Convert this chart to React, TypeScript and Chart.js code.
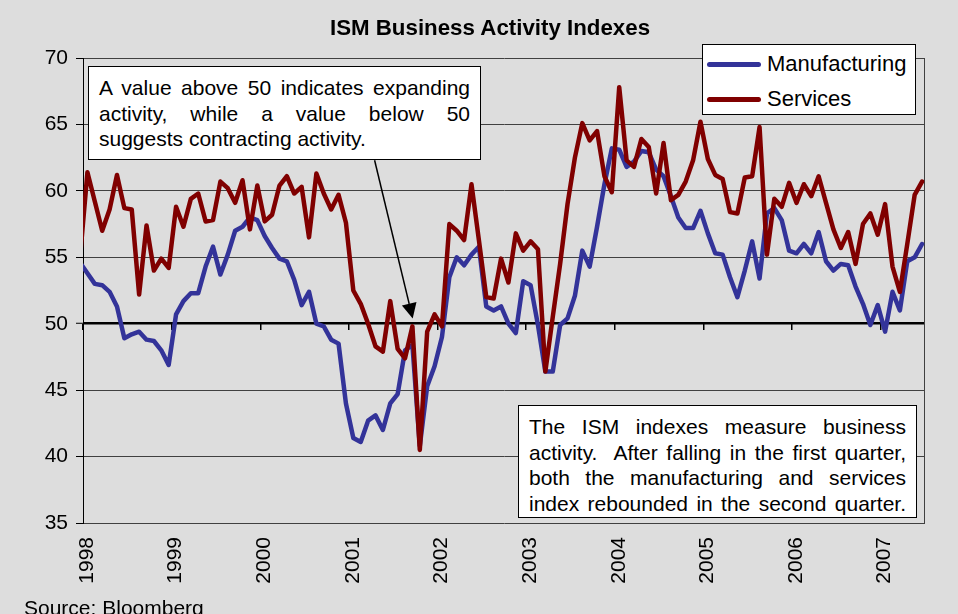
import React, { useEffect, useRef } from "react";
import { Chart, registerables } from "chart.js";

Chart.register(...registerables);

const FONT = '"Liberation Sans", Arial, Helvetica, sans-serif';
const BG = "#dddddd";

const TITLE = "ISM Business Activity Indexes";
const SERIES_NAMES = ["Manufacturing", "Services"];
const SERIES_COLORS = ["#333399", "#800000"];
const SOURCE = "Source: Bloomberg";

// monthly observations, first one = Dec 1997, last one = Jun 2007
const START_YEAR = 1997;
const START_MONTH = 11; // December (0-based)
const MONTH_POS = 0.6; // position of an observation inside its month

const manufacturing = [
  54.6,
  53.8, 53.0, 52.9, 52.4, 51.3, 48.9, 49.2, 49.4, 48.8, 48.7, 48.0, 46.9,
  50.7, 51.7, 52.3, 52.3, 54.3, 55.8, 53.7, 55.2, 57.0, 57.3, 58.0, 57.8,
  56.6, 55.7, 54.9, 54.7, 53.3, 51.4, 52.4, 50.0, 49.8, 48.8, 48.5, 44.0,
  41.4, 41.1, 42.7, 43.1, 42.0, 44.0, 44.7, 48.0, 48.4, 40.8, 45.3, 46.8,
  49.0, 53.5, 55.0, 54.4, 55.2, 55.8, 51.3, 51.0, 51.3, 50.0, 49.3, 53.2,
  52.9, 49.9, 46.4, 46.4, 49.9, 50.4, 52.1, 55.5, 54.3, 57.3, 60.5, 63.2,
  63.1, 61.8, 62.2, 63.0, 62.9, 61.6, 61.1, 59.6, 58.0, 57.2, 57.2, 58.5,
  56.8, 55.3, 55.2, 53.5, 52.0, 54.0, 56.2, 53.4, 58.3, 58.7, 57.8, 55.5,
  55.3, 56.0, 55.3, 56.9, 54.7, 54.0, 54.5, 54.4, 52.8, 51.5, 49.9, 51.4,
  49.4, 52.4, 51.0, 54.7, 55.0, 56.0,
];

const services = [
  55.0,
  61.4, 59.2, 57.0, 58.6, 61.2, 58.7, 58.6, 52.2, 57.4, 54.0, 54.9, 54.2,
  58.8, 57.3, 59.4, 59.8, 57.7, 57.8, 60.7, 60.2, 59.1, 60.8, 57.1, 60.4,
  57.7, 58.2, 60.4, 61.1, 59.8, 60.3, 56.5, 61.3, 59.8, 58.6, 59.7, 57.6,
  52.5, 51.5, 50.0, 48.3, 47.9, 51.7, 48.1, 47.4, 49.8, 40.5, 49.4, 50.7,
  49.8, 57.5, 57.0, 56.3, 60.5, 56.3, 52.0, 51.9, 54.9, 53.1, 56.8, 55.5,
  56.2, 55.6, 46.4, 50.5, 54.5, 59.0, 62.5, 65.1, 63.8, 64.5, 61.1, 59.9,
  67.8, 62.3, 61.8, 63.9, 63.3, 59.8, 63.6, 59.3, 59.7, 60.7, 62.3, 65.2,
  62.4, 61.2, 60.9, 58.4, 58.3, 61.0, 61.1, 64.8, 55.2, 59.4, 58.8, 60.6,
  59.1, 60.5, 59.6, 61.1, 59.1, 57.1, 55.7, 56.9, 54.5, 57.5, 58.3, 56.7,
  59.0, 54.3, 52.4, 56.0, 59.7, 60.7,
];

const yearTicks = [1998, 1999, 2000, 2001, 2002, 2003, 2004, 2005, 2006, 2007];
const yTicks = [35, 40, 45, 50, 55, 60, 65, 70];
const X_MIN = 1998;
const X_MAX = 2007.5;
const Y_MIN = 35;
const Y_MAX = 70;
const NEUTRAL = 50;

const NOTE1_LINES = [
  "A value above 50 indicates expanding",
  "activity, while a value below 50",
  "suggests contracting activity.",
];
const NOTE2_LINES = [
  "The ISM indexes measure business",
  "activity.\u00a0 After falling in the first quarter,",
  "both the manufacturing and services",
  "index rebounded in the second quarter.",
];
const ARROW_FROM = { x: 2001.29, y: 62.3 };
const ARROW_TO = { x: 2001.72, y: 50.4 };

const monthX = (i: number) => START_YEAR + (START_MONTH + i + MONTH_POS) / 12;

const framePlugin = {
  id: "frame",
  beforeDatasetsDraw(chart: any) {
    const { ctx, chartArea: a } = chart;
    ctx.save();
    ctx.strokeStyle = "#404040";
    ctx.lineWidth = 1;
    ctx.beginPath();
    ctx.moveTo(Math.round(a.right) - 0.5, a.top);
    ctx.lineTo(Math.round(a.right) - 0.5, a.bottom);
    ctx.stroke();
    ctx.restore();
  },
};

const arrowPlugin = {
  id: "noteArrow",
  afterDatasetsDraw(chart: any) {
    const { ctx } = chart;
    const xs = chart.scales.x;
    const ys = chart.scales.y;
    const x1 = xs.getPixelForValue(ARROW_FROM.x);
    const y1 = ys.getPixelForValue(ARROW_FROM.y);
    const x2 = xs.getPixelForValue(ARROW_TO.x);
    const y2 = ys.getPixelForValue(ARROW_TO.y);
    const ang = Math.atan2(y2 - y1, x2 - x1);
    const head = 15;
    const half = 7.5;
    const bx = x2 - head * Math.cos(ang);
    const by = y2 - head * Math.sin(ang);
    ctx.save();
    ctx.strokeStyle = "#000";
    ctx.fillStyle = "#000";
    ctx.lineWidth = 1.5;
    ctx.beginPath();
    ctx.moveTo(x1, y1);
    ctx.lineTo(bx, by);
    ctx.stroke();
    ctx.beginPath();
    ctx.moveTo(x2, y2);
    ctx.lineTo(bx + half * Math.sin(ang), by - half * Math.cos(ang));
    ctx.lineTo(bx - half * Math.sin(ang), by + half * Math.cos(ang));
    ctx.closePath();
    ctx.fill();
    ctx.restore();
  },
};

const setYearTicks = (s: any) => {
  s.ticks = yearTicks.map((v) => ({ value: v }));
};

function NoteBox(props: {
  left: number;
  top: number;
  width: number;
  height: number;
  padTop: number;
  lines: string[];
  justifyLast: boolean;
}) {
  const { left, top, width, height, padTop, lines, justifyLast } = props;
  return (
    <div
      style={{
        position: "absolute",
        left,
        top,
        width,
        height,
        boxSizing: "border-box",
        background: "#ffffff",
        border: "1.5px solid #000",
        padding: `${padTop}px 10px 0 10px`,
        fontFamily: FONT,
        fontSize: 21,
        lineHeight: "25.5px",
        color: "#000",
      }}
    >
      {lines.map((t, i) => (
        <div
          key={i}
          style={{
            textAlign: "justify",
            textAlignLast: i === lines.length - 1 && !justifyLast ? "left" : "justify",
          } as any}
        >
          {t}
        </div>
      ))}
    </div>
  );
}

export default function App() {
  const canvasRef = useRef<HTMLCanvasElement>(null);

  useEffect(() => {
    document.body.style.margin = "0";
    const series = [manufacturing, services];
    const chart = new Chart(canvasRef.current as HTMLCanvasElement, {
      type: "line",
      data: {
        datasets: series.map((vals, k) => ({
          label: SERIES_NAMES[k],
          data: vals.map((v, i) => ({ x: monthX(i), y: v })),
          borderColor: SERIES_COLORS[k],
          backgroundColor: SERIES_COLORS[k],
          borderWidth: 4.5,
          pointRadius: 0,
          tension: 0,
          borderJoinStyle: "round",
          borderCapStyle: "round",
          order: k === 1 ? 1 : 2,
        })),
      },
      options: {
        animation: false,
        responsive: false,
        devicePixelRatio: 1,
        layout: { padding: { left: 0, right: 33, top: 58, bottom: 0 } },
        plugins: {
          legend: { display: false },
          tooltip: { enabled: false },
          title: { display: false },
        },
        scales: {
          x: {
            type: "linear",
            min: X_MIN,
            max: X_MAX,
            position: "bottom",
            afterBuildTicks: setYearTicks,
            afterFit: (s: any) => {
              s.height = 91;
            },
            grid: { display: false, drawTicks: false },
            border: { display: false },
            ticks: {
              autoSkip: false,
              minRotation: 90,
              maxRotation: 90,
              padding: 14,
              labelOffset: 4,
              color: "#000",
              font: { family: FONT, size: 21 },
              callback: (v: any) => String(v),
            },
          },
          xCross: {
            type: "linear",
            min: X_MIN,
            max: X_MAX,
            position: { y: NEUTRAL },
            afterBuildTicks: setYearTicks,
            grid: {
              display: true,
              drawOnChartArea: false,
              drawTicks: true,
              tickLength: 6,
              color: "#000",
              lineWidth: 1.5,
            },
            border: { display: false },
            ticks: { display: false },
          } as any,
          y: {
            type: "linear",
            min: Y_MIN,
            max: Y_MAX,
            afterBuildTicks: (s: any) => {
              s.ticks = yTicks.map((v) => ({ value: v }));
            },
            afterFit: (s: any) => {
              s.width = 83;
            },
            grid: {
              color: (c: any) => (c.tick && c.tick.value === NEUTRAL ? "#000" : "#404040"),
              lineWidth: (c: any) => (c.tick && c.tick.value === NEUTRAL ? 2.5 : 1),
              tickLength: 7,
              tickColor: "#000",
              tickWidth: 1,
            },
            border: { display: true, color: "#000", width: 1 },
            ticks: {
              padding: 8,
              color: "#000",
              font: { family: FONT, size: 21 },
              callback: (v: any) => String(v),
            },
          },
        },
      } as any,
      plugins: [framePlugin, arrowPlugin],
    });
    return () => chart.destroy();
  }, []);

  return (
    <div
      style={{
        position: "relative",
        width: 958,
        height: 614,
        background: BG,
        overflow: "hidden",
        fontFamily: FONT,
      }}
    >
      <canvas
        ref={canvasRef}
        width={958}
        height={614}
        style={{ position: "absolute", left: 0, top: 0, width: 958, height: 614 }}
      />
      <div
        style={{
          position: "absolute",
          left: 0,
          top: 15,
          width: 980,
          textAlign: "center",
          fontSize: 22.3,
          fontWeight: "bold",
          lineHeight: "26px",
          color: "#000",
          whiteSpace: "nowrap",
        }}
      >
        {TITLE}
      </div>
      <div
        style={{
          position: "absolute",
          left: 702,
          top: 44,
          width: 214,
          height: 71,
          boxSizing: "border-box",
          background: "#fff",
          border: "1px solid #000",
        }}
      >
        {SERIES_NAMES.map((name, k) => (
          <div
            key={name}
            style={{
              position: "absolute",
              left: 4,
              top: 6 + k * 35,
              height: 26,
              display: "flex",
              alignItems: "center",
              fontSize: 22,
              color: "#000",
              whiteSpace: "nowrap",
            }}
          >
            <span
              style={{
                display: "inline-block",
                width: 54,
                height: 5,
                borderRadius: 2.5,
                background: SERIES_COLORS[k],
                marginRight: 6,
              }}
            />
            {name}
          </div>
        ))}
      </div>
      <NoteBox left={88} top={66} width={393} height={94} padTop={8} lines={NOTE1_LINES} justifyLast={false} />
      <NoteBox left={518} top={405} width={399} height={113} padTop={8} lines={NOTE2_LINES} justifyLast={true} />
      <div
        style={{
          position: "absolute",
          left: 24,
          top: 597,
          fontSize: 21,
          lineHeight: "21px",
          color: "#000",
          whiteSpace: "nowrap",
        }}
      >
        {SOURCE}
      </div>
    </div>
  );
}
